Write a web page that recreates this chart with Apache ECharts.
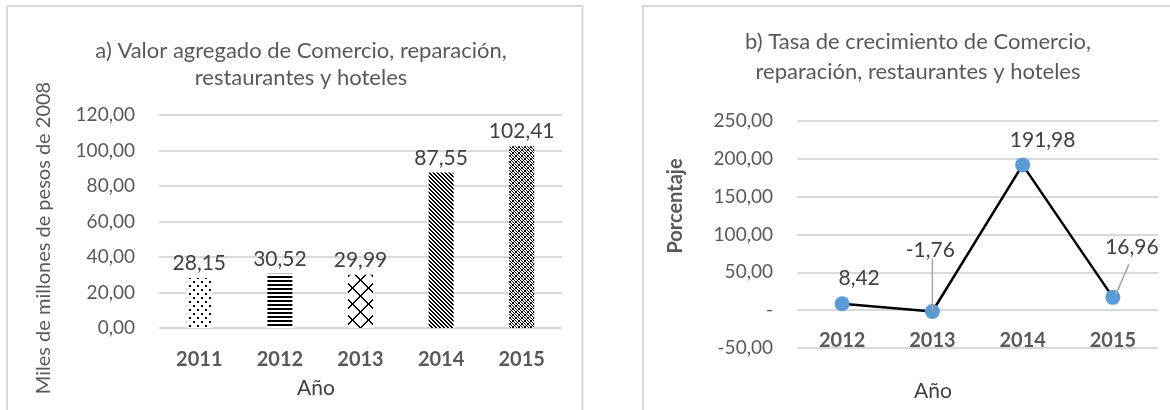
<!DOCTYPE html>
<html>
<head>
<meta charset="utf-8">
<script src="https://cdn.jsdelivr.net/npm/echarts@6/dist/echarts.min.js"></script>
<style>
  html, body { margin: 0; padding: 0; background: #fff; }
  #chart { width: 1170px; height: 410px; }
</style>
</head>
<body>
<div id="chart"></div>
<script>
// a) valor agregado
const barYears = ['2011', '2012', '2013', '2014', '2015']
const barValues = [28.15, 30.52, 29.99, 87.55, 102.41]
// b) tasa de crecimiento
const growthYears = ['2012', '2013', '2014', '2015']
const growthValues = [8.42, -1.76, 191.98, 16.96]

// posiciones de etiquetas (px, relativo al punto)
const growthLabelOffsets = [[17, -26], [-2, -61], [20, -25], [19, -50]]
// lineas guia: [inicio, fin] relativo al punto, null si no hay
const growthLeaders = [null, [[0, -53], [0, 0]], null, [[16, -33], [3, -3]]]

const fmt = v => v.toFixed(2).replace('.', ',')

// tramas en blanco y negro
const makePattern = (size, draw) => {
  const c = document.createElement('canvas')
  c.width = size
  c.height = size
  const ctx = c.getContext('2d')
  ctx.fillStyle = '#fff'
  ctx.fillRect(0, 0, size, size)
  ctx.fillStyle = '#000'
  draw(ctx, size)
  return { image: c, repeat: 'repeat' }
}

const patterns = [
  // puntos
  makePattern(8, ctx => {
    ctx.fillRect(1, 1, 2, 2)
    ctx.fillRect(5, 5, 2, 2)
  }),
  // lineas horizontales
  makePattern(4, ctx => {
    ctx.fillRect(0, 0, 4, 2)
  }),
  // rombos grandes
  makePattern(16, (ctx, s) => {
    for (let i = 0; i < s; i++) {
      ctx.fillRect(i, i, 2, 1)
      ctx.fillRect(s - 1 - i, i, 2, 1)
    }
  }),
  // diagonal densa
  makePattern(4, (ctx, s) => {
    for (let i = 0; i < s; i++) {
      ctx.fillRect(i, i, 1, 1)
      ctx.fillRect((i + 1) % s, i, 1, 1)
    }
  }),
  // tejido
  makePattern(6, (ctx, s) => {
    for (let i = 0; i < s; i++) {
      ctx.fillRect(i, i, 1, 1)
      ctx.fillRect(s - 1 - i, i, 1, 1)
      ctx.fillRect((i + 3) % s, i, 1, 1)
    }
  })
]

const textColor = '#595959'
const labelColor = '#404040'
const gridColor = '#d9d9d9'
const fontFamily = 'Lato'

const chart = echarts.init(document.getElementById('chart'))

const option = {
  animation: false,
  textStyle: { fontFamily },
  title: [
    {
      text: 'a) Valor agregado de Comercio, reparación,\nrestaurantes y hoteles',
      left: 296,
      top: 32,
      textAlign: 'center',
      textStyle: { color: textColor, fontSize: 22, fontWeight: 'normal', lineHeight: 27, fontFamily }
    },
    {
      text: 'b) Tasa de crecimiento de Comercio,\nreparación, restaurantes y hoteles',
      left: 913,
      top: 22,
      textAlign: 'center',
      textStyle: { color: textColor, fontSize: 22, fontWeight: 'normal', lineHeight: 30, fontFamily }
    }
  ],
  grid: [
    { left: 159, right: 608, top: 115, bottom: 82 },
    { left: 797, right: 12, top: 121, bottom: 62 }
  ],
  xAxis: [
    {
      gridIndex: 0,
      type: 'category',
      data: barYears,
      axisLine: { show: false },
      axisTick: { show: false },
      axisLabel: { color: textColor, fontSize: 20, fontWeight: 'bold', margin: 22, fontFamily }
    },
    {
      gridIndex: 1,
      type: 'category',
      data: growthYears,
      // etiquetas junto a la linea del cero
      offset: -38,
      axisLine: { show: false },
      axisTick: { show: false },
      axisLabel: { color: textColor, fontSize: 20, fontWeight: 'bold', margin: 21, fontFamily }
    }
  ],
  yAxis: [
    {
      gridIndex: 0,
      type: 'value',
      min: 0,
      max: 120,
      interval: 20,
      axisLine: { show: false },
      axisTick: { show: false },
      splitLine: { lineStyle: { color: gridColor, width: 2 } },
      axisLabel: { color: textColor, fontSize: 19, margin: 24, formatter: v => fmt(v), fontFamily }
    },
    {
      gridIndex: 1,
      type: 'value',
      min: -50,
      max: 250,
      interval: 50,
      axisLine: { show: false },
      axisTick: { show: false },
      splitLine: { lineStyle: { color: gridColor, width: 2 } },
      axisLabel: { color: textColor, fontSize: 19, margin: 24, formatter: v => (v === 0 ? '-' : fmt(v)), fontFamily }
    }
  ],
  series: [
    {
      type: 'bar',
      xAxisIndex: 0,
      yAxisIndex: 0,
      barWidth: 25,
      data: barValues.map((v, i) => ({ value: v, itemStyle: { color: patterns[i] } })),
      label: {
        show: true,
        position: 'top',
        distance: 4,
        color: labelColor,
        fontSize: 21,
        fontFamily,
        formatter: p => fmt(p.value)
      }
    },
    {
      // lineas guia de etiquetas
      type: 'custom',
      xAxisIndex: 1,
      yAxisIndex: 1,
      z: 4,
      silent: true,
      data: growthValues.map((v, i) => [i, v]),
      renderItem: (params, api) => {
        const lead = growthLeaders[params.dataIndex]
        if (!lead) return null
        const pt = api.coord([api.value(0), api.value(1)])
        return {
          type: 'line',
          shape: {
            x1: pt[0] + lead[0][0],
            y1: pt[1] + lead[0][1],
            x2: pt[0] + lead[1][0],
            y2: pt[1] + lead[1][1]
          },
          style: { stroke: '#a6a6a6', lineWidth: 1.5 }
        }
      }
    },
    {
      type: 'line',
      xAxisIndex: 1,
      yAxisIndex: 1,
      symbol: 'circle',
      symbolSize: 15,
      itemStyle: { color: '#5b9bd5' },
      lineStyle: { color: '#000', width: 2.5 },
      z: 3,
      data: growthValues.map((v, i) => ({
        value: v,
        label: {
          show: true,
          position: 'inside',
          offset: growthLabelOffsets[i],
          color: labelColor,
          fontSize: 21,
          fontFamily,
          formatter: p => fmt(p.value)
        }
      }))
    }
  ],
  graphic: [
    {
      type: 'rect',
      shape: { x: 7, y: 6, width: 575.5, height: 420 },
      style: { fill: 'none', stroke: gridColor, lineWidth: 2 },
      silent: true
    },
    {
      type: 'rect',
      shape: { x: 643, y: 6, width: 600, height: 420 },
      style: { fill: 'none', stroke: gridColor, lineWidth: 2 },
      silent: true
    },
    {
      type: 'text',
      x: 44,
      y: 238,
      rotation: Math.PI / 2,
      style: {
        text: 'Miles de millones de pesos de 2008',
        fill: textColor,
        font: '20px Lato',
        align: 'center',
        verticalAlign: 'middle'
      },
      silent: true
    },
    {
      type: 'text',
      x: 316,
      y: 388,
      style: { text: 'Año', fill: labelColor, font: '21px Lato', align: 'center', verticalAlign: 'middle' },
      silent: true
    },
    {
      type: 'text',
      x: 676,
      y: 206,
      rotation: Math.PI / 2,
      style: { text: 'Porcentaje', fill: textColor, font: 'bold 20px Lato', align: 'center', verticalAlign: 'middle' },
      silent: true
    },
    {
      type: 'text',
      x: 933,
      y: 391,
      style: { text: 'Año', fill: labelColor, font: '21px Lato', align: 'center', verticalAlign: 'middle' },
      silent: true
    }
  ]
}

chart.setOption(option)
</script>
</body>
</html>
